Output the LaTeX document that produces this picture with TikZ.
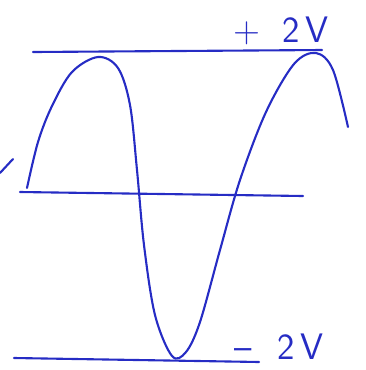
\documentclass[tikz,border=0pt]{standalone}
\usepackage{tikz}
\usetikzlibrary{positioning}
\definecolor{ink}{RGB}{38,44,196}
\tikzset{pen/.style={ink,line width=1.2pt,line cap=round,line join=round},
  volt/.style={ink,font=\fontsize{21}{24}\selectfont\sffamily,inner sep=0pt}}
\begin{document}
\begin{tikzpicture}[x=0.02cm,y=-0.02cm]
  \useasboundingbox (0,0) rectangle (366,370);
  % level lines
  \coordinate (tl) at (33,52);  \coordinate (tr) at (322,50);
  \coordinate (ml) at (20,192); \coordinate (mr) at (303,196);
  \coordinate (bl) at (14,358); \coordinate (br) at (259,362);
  \draw[pen] (tl) -- (tr);
  \draw[pen] (ml) -- (mr);
  \draw[pen] (bl) -- (br);
  % the wave
  \draw[pen] plot[smooth,tension=0.55] coordinates {(27,188) (38,142) (52,106) (72,72)
    (98,57) (118,68) (130,105) (137,170) (144,245) (155,315) (172,356) (186,352)
    (200,322) (220,250) (240,180) (266,112) (294,64) (316,53) (333,70) (348,127)};
  \draw[pen] (0,173) -- (13,159);
  % labels
  \node[volt] (plus) at (281,31) {+\hspace{0.6em}2\hspace{0.15em}V};
  \node[volt] (minus) at (279,347) {--\hspace{0.7em}2\hspace{0.15em}V};
\end{tikzpicture}
\end{document}
